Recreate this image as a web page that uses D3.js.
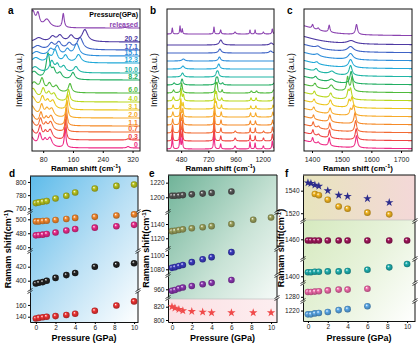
<!DOCTYPE html>
<html>
<head>
<meta charset="utf-8">
<script src="https://cdnjs.cloudflare.com/ajax/libs/d3/7.8.5/d3.min.js"></script>
<style>
body { margin: 0; background: #fff; }
svg { display: block; font-family: Arial, "Liberation Sans", sans-serif; }
</style>
</head>
<body>
<div id="chart"></div>
<script>
const width = 420, height = 345;

// ---- spectra (a, b, c) ----
const pressureLabels = ["0", "0.3", "0.7", "1.1", "2.0", "3.1", "4.0", "6.0", "8.2", "10.0", "12.3", "15.1", "17.1", "20.2", "released"];
const traceColors = ["#ee2a86", "#ef4444", "#f26a33", "#f58a27", "#f7aa2a", "#ecc51c", "#b9d81f", "#4fba3c", "#22ae62", "#1fb5a6", "#22a9d8", "#2f8fdb", "#3e63c6", "#4f3aa3", "#8b43b0"];
const offsetsA = [3, 11, 19, 25, 33, 41, 49, 58, 71, 78, 88, 95, 101, 109, 123];
const offsetsB = [2, 10, 18, 26, 34, 42, 50, 58, 66, 74, 82, 90, 98, 106, 117];
const offsetsC = [2, 10, 18, 26, 34, 42, 50, 58, 66, 74, 82, 90, 98, 106, 115];

// peaks: [position cm-1, height a.u., half width cm-1]
const peaksA = [
  [[45, 12, 12], [71, 12, 5], [85, 6, 5], [98, 9, 7], [139, 20, 2.5], [308, 1.5, 4]],
  [[45, 12, 12], [72, 12, 5], [86, 6, 5], [99, 9, 7], [140, 20, 2.5], [308, 1.2, 4]],
  [[46, 12, 12], [73, 11, 5], [87, 6, 5], [100, 9, 7], [141, 19, 2.5]],
  [[47, 12, 12], [74, 11, 5], [88, 6, 5], [101, 9, 7], [142, 18, 3]],
  [[48, 12, 12], [76, 11, 5], [90, 7, 6], [103, 8, 7], [144, 17, 3]],
  [[50, 13, 12], [78, 11, 6], [92, 7, 6], [106, 8, 7], [146, 15, 3.5]],
  [[52, 13, 12], [80, 11, 6], [95, 7, 6], [109, 7, 7], [148, 12, 4]],
  [[55, 10, 12], [77, 12, 6], [97, 8, 7], [115, 6, 7], [152, 9, 5]],
  [[55, 8, 12], [93, 25, 6], [108, 8, 6], [125, 6, 7], [160, 7, 6]],
  [[58, 6, 12], [103, 11, 7], [118, 7, 6], [135, 6, 7], [168, 6, 7]],
  [[60, 5, 12], [95, 6, 7], [112, 12, 7], [140, 7, 7], [175, 8, 8]],
  [[62, 4, 12], [100, 6, 8], [118, 9, 7], [145, 6, 7], [170, 12, 8]],
  [[65, 4, 12], [102, 6, 8], [122, 7, 8], [150, 6, 8], [179, 12, 9]],
  [[68, 4, 12], [105, 5, 8], [125, 6, 8], [155, 6, 8], [192, 12, 9]],
  [[52, 16, 7], [66, 12, 5], [90, 8, 10], [134, 14, 3], [300, 0.6, 4]]
];
const peaksB = [
  [[402, 14, 4], [470, 18, 4], [490, 14, 4], [770, 20, 4], [829, 5, 5], [956, 3, 8], [1088, 7, 4], [1133, 6, 4], [1206, 3, 6], [1285, 8, 5]],
  [[403, 12, 4], [471, 16, 4], [491, 13, 4], [771, 18, 4], [830, 5, 5], [957, 3, 8], [1089, 6, 4], [1134, 5, 4], [1207, 3, 6], [1286, 7, 5]],
  [[404, 8, 5], [472, 14, 4], [492, 12, 4], [772, 16, 4], [831, 5, 5], [958, 2, 8], [1090, 5, 4], [1135, 5, 4], [1208, 2, 6], [1287, 6, 5]],
  [[405, 6, 5], [473, 12, 5], [493, 10, 5], [773, 14, 4], [832, 5, 5], [1091, 4, 5], [1136, 4, 5], [1288, 5, 5]],
  [[407, 5, 6], [475, 12, 5], [495, 8, 5], [775, 12, 5], [834, 5, 5], [1093, 4, 5], [1138, 4, 5], [1290, 5, 6]],
  [[409, 4, 6], [477, 10, 5], [497, 6, 5], [778, 10, 5], [790, 6, 5], [836, 4, 5], [1095, 3, 5], [1140, 3, 5], [1292, 4, 6]],
  [[411, 4, 7], [480, 12, 6], [500, 6, 6], [780, 10, 5], [792, 8, 5], [838, 3, 6], [1097, 3, 6], [1142, 3, 6], [1294, 4, 6]],
  [[413, 3, 8], [484, 10, 8], [785, 9, 6], [797, 9, 6], [842, 3, 6], [1100, 2, 8], [1146, 2, 8], [1296, 3, 8]],
  [[418, 2, 10], [488, 6, 10], [790, 6, 8], [802, 6, 8], [846, 2, 8], [1300, 2, 8]],
  [[492, 4, 12], [795, 4, 10], [806, 4, 10]],
  [[496, 3, 14], [812, 5, 12]],
  [[500, 2, 15], [818, 4, 12]],
  [[822, 4, 14], [1270, 2, 15]],
  [[830, 5, 15], [1275, 2, 15]],
  [[402, 6, 4], [470, 8, 4], [490, 5, 4], [770, 7, 4], [829, 4, 5], [956, 2, 8], [1088, 4, 4], [1133, 4, 4], [1206, 2, 6], [1285, 5, 5]]
];
const peaksC = [
  [[1340, 10, 80], [1402, 5, 3], [1421, 2, 4], [1458, 8, 3], [1550, 12, 4]],
  [[1340, 10, 80], [1403, 5, 3], [1422, 2, 4], [1459, 8, 3], [1549, 11, 4]],
  [[1340, 10, 80], [1404, 5, 3], [1422, 2, 4], [1460, 7, 3], [1547, 11, 4]],
  [[1340, 10, 80], [1405, 4, 3], [1460, 7, 4], [1545, 11, 4]],
  [[1340, 10, 80], [1406, 4, 4], [1461, 6, 4], [1530, 6, 4], [1540, 10, 4]],
  [[1340, 10, 80], [1407, 4, 4], [1462, 6, 5], [1525, 7, 4], [1535, 10, 4]],
  [[1340, 10, 80], [1408, 4, 4], [1463, 5, 5], [1522, 8, 4], [1530, 10, 4]],
  [[1340, 10, 80], [1410, 4, 5], [1465, 5, 8], [1520, 14, 4], [1535, 14, 4]],
  [[1340, 10, 80], [1412, 3, 6], [1466, 3, 10], [1532, 12, 5]],
  [[1340, 10, 80], [1414, 3, 6], [1467, 3, 10], [1530, 10, 6]],
  [[1340, 10, 80], [1416, 2, 6], [1530, 8, 8]],
  [[1340, 10, 80], [1418, 2, 8], [1530, 6, 10]],
  [[1340, 10, 80], [1420, 2, 8], [1530, 5, 12]],
  [[1340, 10, 80], [1532, 3, 15]],
  [[1340, 12, 80], [1402, 4, 3], [1421, 2, 4], [1458, 7, 3], [1550, 10, 4]]
];
const ticksA = [80, 160, 240, 320];
const ticksB = [480, 720, 960, 1200];
const ticksC = [1400, 1500, 1600, 1700];

// ---- Raman shift vs pressure (d, e, f) ----
const pressure = [0, 0.3, 0.7, 1.1, 2.0, 3.1, 4.0, 6.0, 8.2, 10.0];
const dOlive = [768, 769, 770, 771, 775, 779, 784, 790, 794, 796];
const dOrange = [497, 497, 497.5, 498, 499, 500.5, 502, 503.5, 505.5, 507];
const dPink = [477, 477.5, 478, 479, 481, 484, 486, 488, 490, 492];
const dBlack = [396, 397, 398, 400, 404, 408, 411, 420, 423, 425];
const dRed = [137, 138, 139, 140, 141, 143, 145, 150, 159, 166];
const eBlack = [1202, 1202, 1202.5, 1203, 1204, 1205, 1206, 1208];
const eOlive = [1130, 1130.5, 1131.5, 1132.5, 1134, 1135.5, 1137, 1140, 1146, 1149];
const eBlue = [1082, 1083, 1084.5, 1086, 1090, 1094, 1097, 1104];
const ePurple = [958, 959, 961, 962.5, 964.5, 967, 969, 973];
const eRed = [820, 818, 816, 814, 813, 812, 811, 811, 811, 811];
const fNavy = [1547, 1546.5, 1545, 1544, 1540, 1536, 1535, 1533, 1529.5];
const fGoldP = [0.7, 1.1, 2.0, 3.1, 4.0, 6.0, 8.2];
const fGold = [1537, 1536, 1532, 1526, 1524, 1520.5, 1519];
const fMaroon = [1459, 1459, 1459, 1459, 1459, 1459, 1459, 1459, 1459, 1459];
const fTeal = [1405, 1405, 1405.5, 1405.5, 1406, 1406, 1406.5, 1408, 1411, 1415];
const fPink = [1286, 1286, 1286.5, 1287, 1288, 1289, 1289, 1290];
const fBlue = [1216, 1216, 1217, 1217.5, 1218.5, 1220.5, 1221.5, 1224.5];
const pressureTicks = [0, 2, 4, 6, 8, 10];

const svg = d3.select("#chart").append("svg")
  .attr("width", width)
  .attr("height", height);
const defs = svg.append("defs");
const fmt = d3.format("d");

function spectrum(peaks, offset, dom, step) {
  return d3.range(dom[0], dom[1] + step, step).map(x => {
    let y = offset;
    peaks.forEach(([p, h, w]) => { y += h * w * w / ((x - p) * (x - p) + w * w); });
    return [x, y];
  });
}

function spectraPanel(cfg) {
  const g = svg.append("g");
  const x = d3.scaleLinear().domain(cfg.domain).range([cfg.x0, cfg.x1]);
  const y = d3.scaleLinear().domain([0, 142]).range([151, 9]);
  defs.append("clipPath").attr("id", "clip-" + cfg.id)
    .append("rect").attr("x", cfg.x0).attr("y", 9).attr("width", cfg.x1 - cfg.x0).attr("height", 142);
  const line = d3.line().x(d => x(d[0])).y(d => y(d[1]));
  g.append("g").attr("clip-path", `url(#clip-${cfg.id})`)
    .selectAll("path")
    .data(cfg.peaks)
    .join("path")
      .attr("fill", "none")
      .attr("stroke", (d, i) => traceColors[i])
      .attr("stroke-width", 1.1)
      .attr("stroke-linejoin", "round")
      .attr("d", (d, i) => line(spectrum(d, cfg.offsets[i], cfg.domain, cfg.step)));
  g.append("rect")
    .attr("x", cfg.x0).attr("y", 9)
    .attr("width", cfg.x1 - cfg.x0).attr("height", 142)
    .attr("fill", "none").attr("stroke", "#111").attr("stroke-width", 1);
  g.append("g")
    .attr("transform", "translate(0,151)")
    .call(d3.axisBottom(x).tickValues(cfg.ticks).tickFormat(fmt).tickSize(2).tickSizeOuter(0))
    .call(a => a.select(".domain").remove())
    .call(a => a.selectAll("text").attr("font-size", 7).attr("fill", "#222").attr("dy", "0.9em"));
  g.append("text")
    .attr("x", (cfg.x0 + cfg.x1) / 2).attr("y", 171)
    .attr("text-anchor", "middle").attr("font-size", 8).attr("font-weight", "bold")
    .text("Raman shift (cm")
    .call(t => t.append("tspan").attr("font-size", 5.5).attr("dy", -3).text("-1"))
    .call(t => t.append("tspan").attr("dy", 3).text(")"));
  g.append("text")
    .attr("transform", `translate(${cfg.x0 - 10},80) rotate(-90)`)
    .attr("text-anchor", "middle").attr("font-size", 8.5)
    .text("Intensity (a.u.)");
  g.append("text")
    .attr("x", cfg.letterX).attr("y", 14)
    .attr("font-size", 10).attr("font-weight", "bold")
    .text(cfg.id);
  return { x, y };
}

const pa = spectraPanel({ id: "a", domain: [50, 340], x0: 32, x1: 140, step: 0.5, peaks: peaksA, offsets: offsetsA, ticks: ticksA, letterX: 8 });
spectraPanel({ id: "b", domain: [355, 1300], x0: 167, x1: 274, step: 1, peaks: peaksB, offsets: offsetsB, ticks: ticksB, letterX: 150 });
spectraPanel({ id: "c", domain: [1373, 1737], x0: 304, x1: 412, step: 0.5, peaks: peaksC, offsets: offsetsC, ticks: ticksC, letterX: 287 });

// pressure labels in panel a
svg.append("text")
  .attr("x", 138).attr("y", 17)
  .attr("text-anchor", "end").attr("font-size", 7).attr("font-weight", "bold")
  .text("Pressure(GPa)");
svg.append("g").selectAll("text")
  .data(pressureLabels)
  .join("text")
    .attr("x", 138)
    .attr("y", (d, i) => pa.y(offsetsA[i]) - 1.5)
    .attr("text-anchor", "end")
    .attr("font-size", 7).attr("font-weight", "bold")
    .attr("fill", (d, i) => traceColors[i])
    .text(d => d);

// gradients
function linGrad(id, stops, x2, y2) {
  const lg = defs.append("linearGradient").attr("id", id)
    .attr("x1", 0).attr("y1", 0).attr("x2", x2).attr("y2", y2);
  stops.forEach(([o, c]) => lg.append("stop").attr("offset", o).attr("stop-color", c));
}
linGrad("bgD", [[0, "#5dbbea"], [0.5, "#b6def4"], [1, "#ffffff"]], 1, 1);
linGrad("bgE", [[0, "#6fb398"], [0.55, "#c9e3d6"], [1, "#ffffff"]], 1, 1);
linGrad("bgE5", [[0, "#fbe0e3"], [1, "#fdeef0"]], 1, 0);
linGrad("bgF1", [[0, "#e7e4bd"], [1, "#f4d8d8"]], 1, 0);
linGrad("bgF", [[0, "#cfe6b4"], [0.6, "#e8f3dc"], [1, "#ffffff"]], 1, 1);

const sphereIds = {};
function sphere(color) {
  if (sphereIds[color]) return sphereIds[color];
  const id = "sph" + Object.keys(sphereIds).length;
  const rg = defs.append("radialGradient").attr("id", id)
    .attr("cx", "50%").attr("cy", "50%").attr("r", "55%").attr("fx", "35%").attr("fy", "32%");
  rg.append("stop").attr("offset", 0).attr("stop-color", "#ffffff");
  rg.append("stop").attr("offset", 0.35).attr("stop-color", color);
  rg.append("stop").attr("offset", 1).attr("stop-color", d3.color(color).darker(1.2));
  sphereIds[color] = id;
  return id;
}

function scatterPanel(cfg) {
  const g = svg.append("g");
  const x = d3.scaleLinear().domain(cfg.xDomain).range([cfg.x0, cfg.x1]);
  g.append("rect")
    .attr("x", cfg.x0).attr("y", cfg.y0)
    .attr("width", cfg.x1 - cfg.x0).attr("height", cfg.y1 - cfg.y0)
    .attr("fill", `url(#${cfg.bg})`);
  cfg.segs.forEach(s => {
    s.scale = d3.scaleLinear().domain(s.domain).range([s.range[1], s.range[0]]);
    if (s.bg) {
      g.append("rect")
        .attr("x", cfg.x0).attr("y", s.range[0])
        .attr("width", cfg.x1 - cfg.x0).attr("height", s.range[1] - s.range[0])
        .attr("fill", `url(#${s.bg})`);
      const edgeY = s.range[0] === cfg.y0 ? s.range[1] : s.range[0];
      g.append("line")
        .attr("x1", cfg.x0).attr("x2", cfg.x1).attr("y1", edgeY).attr("y2", edgeY)
        .attr("stroke", "#bbb").attr("stroke-width", 0.6);
    }
    g.append("g")
      .attr("transform", `translate(${cfg.x0},0)`)
      .call(d3.axisLeft(s.scale).tickValues(s.ticks).tickFormat(fmt).tickSize(2).tickPadding(1.5).tickSizeOuter(0))
      .call(a => a.select(".domain").attr("stroke", "#111"))
      .call(a => a.selectAll("text").attr("font-size", 6.5).attr("fill", "#222"));
    g.append("line")
      .attr("x1", cfg.x1).attr("x2", cfg.x1).attr("y1", s.range[0]).attr("y2", s.range[1])
      .attr("stroke", "#111");
  });
  g.append("line").attr("x1", cfg.x0).attr("x2", cfg.x1).attr("y1", cfg.y0).attr("y2", cfg.y0).attr("stroke", "#111");
  g.append("g")
    .attr("transform", `translate(0,${cfg.y1})`)
    .call(d3.axisBottom(x).tickValues(pressureTicks).tickSize(2).tickPadding(1).tickSizeOuter(0))
    .call(a => a.select(".domain").attr("stroke", "#111"))
    .call(a => a.selectAll("text").attr("font-size", 6.5).attr("fill", "#222"));
  // break marks
  cfg.segs.slice(1).forEach(s => {
    const yb = s.range[0] - 1;
    [cfg.x0, cfg.x1].forEach(xb => {
      g.append("path")
        .attr("d", `M${xb - 2.5},${yb + 0.5}L${xb + 2.5},${yb - 2.5}M${xb - 2.5},${yb + 2.5}L${xb + 2.5},${yb - 0.5}`)
        .attr("stroke", "#111").attr("stroke-width", 0.8).attr("fill", "none");
    });
  });
  cfg.series.forEach(sr => {
    const yS = cfg.segs[sr.seg].scale;
    const pts = sr.values.map((v, i) => [sr.xs[i], v]);
    if (sr.shape === "star") {
      g.append("g").selectAll("path")
        .data(pts)
        .join("path")
          .attr("transform", d => `translate(${x(d[0])},${yS(d[1])})`)
          .attr("d", d3.symbol(d3.symbolStar, 22))
          .attr("fill", sr.color);
    } else {
      const id = sphere(sr.color);
      g.append("g").selectAll("circle")
        .data(pts)
        .join("circle")
          .attr("cx", d => x(d[0]))
          .attr("cy", d => yS(d[1]))
          .attr("r", 3.3)
          .attr("fill", `url(#${id})`);
    }
  });
  g.append("text")
    .attr("x", (cfg.x0 + cfg.x1) / 2).attr("y", 341)
    .attr("text-anchor", "middle").attr("font-size", 9).attr("font-weight", "bold")
    .text("Pressure (GPa)");
  g.append("text")
    .attr("transform", `translate(${cfg.x0 - 19},${(cfg.y0 + cfg.y1) / 2}) rotate(-90)`)
    .attr("text-anchor", "middle").attr("font-size", 9).attr("font-weight", "bold")
    .text("Ramam shift(cm")
    .call(t => t.append("tspan").attr("font-size", 6).attr("dy", -3.5).text("-1"))
    .call(t => t.append("tspan").attr("dy", 3.5).text(")"));
  g.append("text")
    .attr("x", cfg.letterX).attr("y", 177)
    .attr("font-size", 10).attr("font-weight", "bold")
    .text(cfg.id);
}

const p8 = pressure.slice(0, 8);
const p9 = pressure.slice(0, 9);

scatterPanel({
  id: "d", x0: 30, x1: 138, y0: 176, y1: 322, xDomain: [-0.6, 10.4], bg: "bgD", letterX: 9,
  segs: [
    { domain: [756, 809], range: [176, 211], ticks: [760, 780, 800] },
    { domain: [456, 509], range: [213, 250], ticks: [460, 480, 500] },
    { domain: [386.7, 441], range: [252, 290], ticks: [400, 420] },
    { domain: [131, 182], range: [292, 322], ticks: [140, 160] }
  ],
  series: [
    { seg: 0, xs: pressure, values: dOlive, color: "#b8c41e" },
    { seg: 1, xs: pressure, values: dOrange, color: "#f5892e" },
    { seg: 1, xs: pressure, values: dPink, color: "#ea2a8c" },
    { seg: 2, xs: pressure, values: dBlack, color: "#222222" },
    { seg: 3, xs: pressure, values: dRed, color: "#ee3333" }
  ]
});

scatterPanel({
  id: "e", x0: 168, x1: 277, y0: 175, y1: 322, xDomain: [-0.4, 10.6], bg: "bgE", letterX: 149,
  segs: [
    { domain: [1181.2, 1230.5], range: [175, 211], ticks: [1200, 1220] },
    { domain: [1106.4, 1155.4], range: [213, 248], ticks: [1120, 1140] },
    { domain: [1073.4, 1107], range: [250, 274], ticks: [1080, 1100] },
    { domain: [949.2, 978.6], range: [276, 297], ticks: [960] },
    { domain: [797, 831.6], range: [299, 322], ticks: [800, 820], bg: "bgE5" }
  ],
  series: [
    { seg: 0, xs: p8, values: eBlack, color: "#555555" },
    { seg: 1, xs: pressure, values: eOlive, color: "#9aa05a" },
    { seg: 2, xs: p8, values: eBlue, color: "#3a3ac0" },
    { seg: 3, xs: p8, values: ePurple, color: "#8a35b0" },
    { seg: 4, xs: pressure, values: eRed, color: "#f04a4a", shape: "star" }
  ]
});

scatterPanel({
  id: "f", x0: 303, x1: 415, y0: 175, y1: 321, xDomain: [-0.5, 10.8], bg: "bgF", letterX: 285,
  segs: [
    { domain: [1514, 1553.9], range: [175, 220], ticks: [1520, 1540], bg: "bgF1" },
    { domain: [1443.5, 1475.3], range: [222, 258], ticks: [1460] },
    { domain: [1393, 1420], range: [260, 282], ticks: [1400] },
    { domain: [1276, 1296], range: [284, 300], ticks: [1280] },
    { domain: [1209, 1229], range: [302, 321], ticks: [1220] }
  ],
  series: [
    { seg: 0, xs: p9, values: fNavy, color: "#2c2c8c", shape: "star" },
    { seg: 0, xs: fGoldP, values: fGold, color: "#f2b522" },
    { seg: 1, xs: pressure, values: fMaroon, color: "#a0155a" },
    { seg: 2, xs: pressure, values: fTeal, color: "#1fb0b0" },
    { seg: 3, xs: p8, values: fPink, color: "#f06aaa" },
    { seg: 4, xs: p8, values: fBlue, color: "#5aa8e8" }
  ]
});
</script>
</body>
</html>
